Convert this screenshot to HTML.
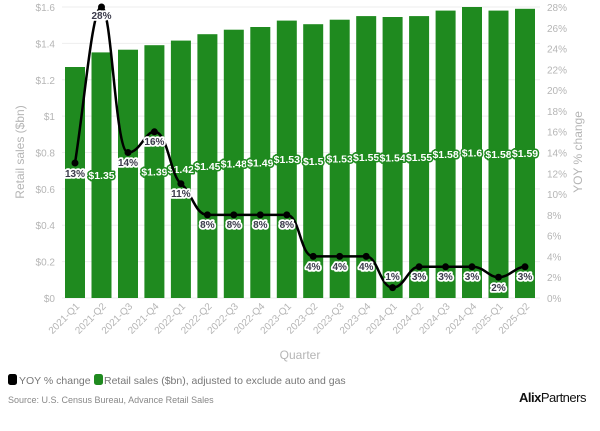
<!DOCTYPE html>
<html><head><meta charset="utf-8"><style>
body{margin:0;background:#fff;}
svg{display:block;font-family:"Liberation Sans",sans-serif;}
.ax{fill:#b5b5b5;font-size:10px;}
.xl{fill:#b5b5b5;font-size:10px;}
.pl{font-size:10px;font-weight:bold;fill:#3a3a4a;stroke:#fff;stroke-width:3.5px;paint-order:stroke;stroke-linejoin:round;text-anchor:middle;}
.sl{font-size:10.5px;font-weight:bold;fill:#fff;stroke:#1f8a1f;stroke-width:3px;paint-order:stroke;stroke-linejoin:round;text-anchor:middle;}
</style></head><body>
<svg width="600" height="431" viewBox="0 0 600 431">
<g stroke="#eeeeee" stroke-width="1">
<line x1="62" x2="540" y1="7" y2="7"/><line x1="62" x2="540" y1="43.4" y2="43.4"/><line x1="62" x2="540" y1="79.8" y2="79.8"/><line x1="62" x2="540" y1="116.1" y2="116.1"/><line x1="62" x2="540" y1="152.5" y2="152.5"/><line x1="62" x2="540" y1="188.9" y2="188.9"/><line x1="62" x2="540" y1="225.2" y2="225.2"/><line x1="62" x2="540" y1="261.6" y2="261.6"/><line x1="62" x2="540" y1="298" y2="298"/>
</g>
<g class="ax" text-anchor="end">
<text x="55" y="11">$1.6</text><text x="55" y="47.4">$1.4</text><text x="55" y="83.8">$1.2</text><text x="55" y="120.1">$1</text><text x="55" y="156.5">$0.8</text><text x="55" y="192.9">$0.6</text><text x="55" y="229.2">$0.4</text><text x="55" y="265.6">$0.2</text><text x="55" y="302">$0</text>
</g>
<g class="ax" text-anchor="start">
<text x="547" y="11">28%</text><text x="547" y="31.8">26%</text><text x="547" y="52.6">24%</text><text x="547" y="73.4">22%</text><text x="547" y="94.2">20%</text><text x="547" y="115">18%</text><text x="547" y="135.7">16%</text><text x="547" y="156.5">14%</text><text x="547" y="177.3">12%</text><text x="547" y="198.1">10%</text><text x="547" y="218.9">8%</text><text x="547" y="239.7">6%</text><text x="547" y="260.4">4%</text><text x="547" y="281.2">2%</text><text x="547" y="302">0%</text>
</g>
<text transform="translate(24,152) rotate(-90)" text-anchor="middle" fill="#b5b5b5" font-size="12">Retail sales ($bn)</text>
<text transform="translate(582,152) rotate(-90)" text-anchor="middle" fill="#b5b5b5" font-size="12">YOY % change</text>
<g fill="#1f8a1f">
<rect x="65" y="67" width="20" height="231"/><rect x="91.5" y="52.4" width="20" height="245.6"/><rect x="118" y="49.7" width="20" height="248.3"/><rect x="144.4" y="45.2" width="20" height="252.8"/><rect x="170.9" y="40.6" width="20" height="257.4"/><rect x="197.4" y="34.2" width="20" height="263.8"/><rect x="223.8" y="29.7" width="20" height="268.3"/><rect x="250.3" y="27" width="20" height="271"/><rect x="276.8" y="20.6" width="20" height="277.4"/><rect x="303.2" y="24.2" width="20" height="273.8"/><rect x="329.7" y="19.7" width="20" height="278.3"/><rect x="356.2" y="16.1" width="20" height="281.9"/><rect x="382.6" y="17" width="20" height="281"/><rect x="409.1" y="16.1" width="20" height="281.9"/><rect x="435.6" y="10.6" width="20" height="287.4"/><rect x="462" y="7" width="20" height="291"/><rect x="488.5" y="10.6" width="20" height="287.4"/><rect x="515" y="8.8" width="20" height="289.2"/>
</g>
<g>
<text class="sl" x="101.5" y="179">$1.35</text><text class="sl" x="154.4" y="175.5">$1.39</text><text class="sl" x="180.9" y="173">$1.42</text><text class="sl" x="207.4" y="170">$1.45</text><text class="sl" x="233.8" y="167.5">$1.48</text><text class="sl" x="260.3" y="166.5">$1.49</text><text class="sl" x="286.8" y="163">$1.53</text><text class="sl" x="313.2" y="165">$1.5</text><text class="sl" x="339.7" y="162.5">$1.53</text><text class="sl" x="366.2" y="161">$1.55</text><text class="sl" x="392.6" y="161.5">$1.54</text><text class="sl" x="419.1" y="161">$1.55</text><text class="sl" x="445.6" y="158">$1.58</text><text class="sl" x="472" y="156.5">$1.6</text><text class="sl" x="498.5" y="158">$1.58</text><text class="sl" x="525" y="157">$1.59</text>
</g>
<path d="M75,163 C85,100 92,7 101.5,7 C112,7 115,152.5 128,152.5 C140,152.5 145,131.8 154.4,131.8 C168,131.8 170,175 180.9,183.7 C192,192 195,214.9 207.4,214.9 L286.8,214.9 C300,214.9 300,256.4 313.2,256.4 L366.2,256.4 C378,256.4 380,287.6 392.6,287.6 C405,287.6 408,266.8 419.1,266.8 L472,266.8 C485,266.8 488,277.2 498.5,277.2 C510,277.2 515,266.8 525,266.8" fill="none" stroke="#000" stroke-width="2.5"/>
<g fill="#000">
<circle cx="75" cy="163" r="3.5"/><circle cx="101.5" cy="7" r="3.5"/><circle cx="128" cy="152.5" r="3.5"/><circle cx="154.4" cy="131.8" r="3.5"/><circle cx="180.9" cy="183.7" r="3.5"/><circle cx="207.4" cy="214.9" r="3.5"/><circle cx="233.8" cy="214.9" r="3.5"/><circle cx="260.3" cy="214.9" r="3.5"/><circle cx="286.8" cy="214.9" r="3.5"/><circle cx="313.2" cy="256.4" r="3.5"/><circle cx="339.7" cy="256.4" r="3.5"/><circle cx="366.2" cy="256.4" r="3.5"/><circle cx="392.6" cy="287.6" r="3.5"/><circle cx="419.1" cy="266.8" r="3.5"/><circle cx="445.6" cy="266.8" r="3.5"/><circle cx="472" cy="266.8" r="3.5"/><circle cx="498.5" cy="277.2" r="3.5"/><circle cx="525" cy="266.8" r="3.5"/>
</g>
<g>
<text class="pl" x="75" y="177">13%</text><text class="pl" x="101.5" y="19">28%</text><text class="pl" x="128" y="166">14%</text><text class="pl" x="154.4" y="145">16%</text><text class="pl" x="180.9" y="197">11%</text><text class="pl" x="207.4" y="228">8%</text><text class="pl" x="233.8" y="228">8%</text><text class="pl" x="260.3" y="228">8%</text><text class="pl" x="286.8" y="228">8%</text><text class="pl" x="313.2" y="270">4%</text><text class="pl" x="339.7" y="270">4%</text><text class="pl" x="366.2" y="270">4%</text><text class="pl" x="392.6" y="280">1%</text><text class="pl" x="419.1" y="280">3%</text><text class="pl" x="445.6" y="280">3%</text><text class="pl" x="472" y="280">3%</text><text class="pl" x="498.5" y="291">2%</text><text class="pl" x="525" y="280">3%</text>
</g>
<g class="xl" text-anchor="end">
<text transform="translate(80,307) rotate(-45)">2021-Q1</text><text transform="translate(106.5,307) rotate(-45)">2021-Q2</text><text transform="translate(133,307) rotate(-45)">2021-Q3</text><text transform="translate(159.4,307) rotate(-45)">2021-Q4</text><text transform="translate(185.9,307) rotate(-45)">2022-Q1</text><text transform="translate(212.4,307) rotate(-45)">2022-Q2</text><text transform="translate(238.8,307) rotate(-45)">2022-Q3</text><text transform="translate(265.3,307) rotate(-45)">2022-Q4</text><text transform="translate(291.8,307) rotate(-45)">2023-Q1</text><text transform="translate(318.2,307) rotate(-45)">2023-Q2</text><text transform="translate(344.7,307) rotate(-45)">2023-Q3</text><text transform="translate(371.2,307) rotate(-45)">2023-Q4</text><text transform="translate(397.6,307) rotate(-45)">2024-Q1</text><text transform="translate(424.1,307) rotate(-45)">2024-Q2</text><text transform="translate(450.6,307) rotate(-45)">2024-Q3</text><text transform="translate(477,307) rotate(-45)">2024-Q4</text><text transform="translate(503.5,307) rotate(-45)">2025-Q1</text><text transform="translate(530,307) rotate(-45)">2025-Q2</text>
</g>
<text x="300" y="359" text-anchor="middle" fill="#b5b5b5" font-size="12">Quarter</text>
<rect x="8" y="374" width="9" height="11" rx="2.5" fill="#000"/>
<text x="19" y="384" fill="#777" font-size="10.5">YOY % change</text>
<rect x="94" y="374" width="9" height="11" rx="2.5" fill="#1f8a1f"/>
<text x="104" y="384" fill="#777" font-size="10.5">Retail sales ($bn), adjusted to exclude auto and gas</text>
<text x="8" y="403" fill="#888" font-size="9">Source: U.S. Census Bureau, Advance Retail Sales</text>
<text x="519" y="402" fill="#111" font-size="13" letter-spacing="-0.5"><tspan font-weight="bold">Alix</tspan>Partners</text>
</svg>
</body></html>
